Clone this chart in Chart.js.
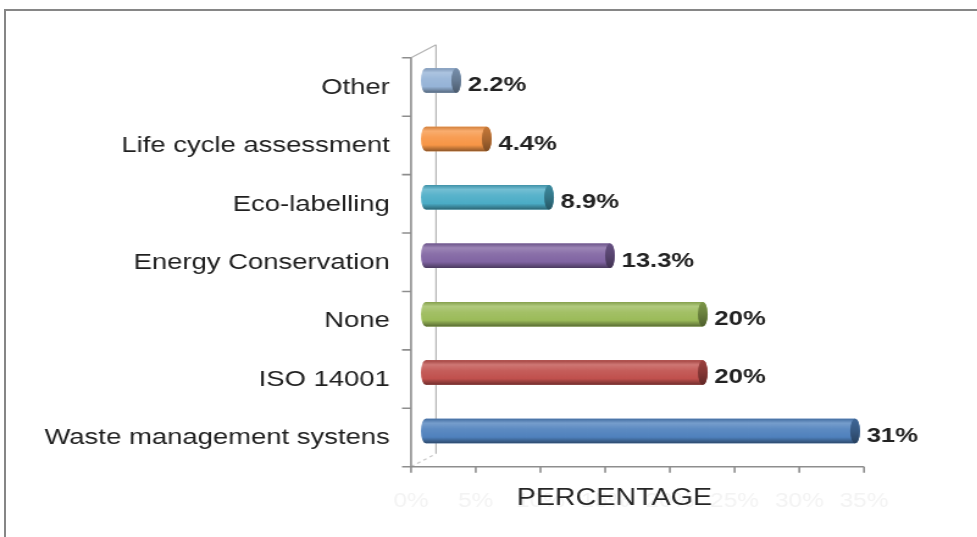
<!DOCTYPE html>
<html lang="en">
<head>
    <meta charset="UTF-8">
    <title>Environmental practices</title>
    <script src="https://cdn.jsdelivr.net/npm/chart.js"></script>
    <style>
        html, body {
            margin: 0;
            padding: 0;
            background: #fff;
            overflow: hidden;
        }
        #frame {
            position: absolute;
            left: 4px;
            top: 9px;
            width: 1000px;
            height: 600px;
            border-top: 2px solid #868686;
            border-left: 2px solid #868686;
        }
        /* the chart is laid out narrow and widened, which gives the broad lettering */
        #wrap {
            position: absolute;
            left: 0;
            top: 0;
            width: 801px;
            height: 537px;
            transform: scaleX(1.22);
            transform-origin: 0 0;
        }
    </style>
</head>
<body>
    <div id="frame"></div>
    <div id="wrap"><canvas id="practiceChart"></canvas></div>
    <script>
        const categories = ['Other', 'Life cycle assessment', 'Eco-labelling', 'Energy Conservation', 'None', 'ISO 14001', 'Waste management systens'];
        const percentages = [2.2, 4.4, 8.9, 13.3, 20, 20, 31];
        const barColors = ['#95B3D7', '#F79646', '#4BACC6', '#8064A2', '#9BBB59', '#C0504D', '#4F81BD'];
        const tickLabels = ['0%', '5%', '10%', '15%', '20%', '25%', '30%', '35%'];
        const tickValues = tickLabels.map(t => parseFloat(t));

        const FONT = '"Liberation Sans", Arial, sans-serif';
        const depthX = 20.5;   // front-to-back offset of the 3d box
        const depthY = 13;
        const capRx = 4;       // half width of the cylinder end caps

        function shade(hex, amt) {
            const n = parseInt(hex.slice(1), 16);
            let r = n >> 16, g = (n >> 8) & 255, b = n & 255;
            const t = amt < 0 ? 0 : 255, p = Math.abs(amt);
            r = Math.round((t - r) * p + r);
            g = Math.round((t - g) * p + g);
            b = Math.round((t - b) * p + b);
            return `rgb(${r},${g},${b})`;
        }

        // walls and floor of the 3d plot box, plus the axis title
        const frame3d = {
            id: 'frame3d',
            beforeDatasetsDraw(chart) {
                const { ctx, chartArea: a, scales: { x2 } } = chart;
                const n = categories.length;
                const step = (a.bottom - a.top) / n;
                const fx = x2.getPixelForValue(0);
                const bx = fx + depthX;
                const fTop = a.top + depthY / 2, fBot = a.bottom + depthY / 2;
                const bTop = a.top - depthY / 2, bBot = a.bottom - depthY / 2;
                const floorEnd = x2.getPixelForValue(tickValues[tickValues.length - 1]);
                ctx.save();
                // back wall edge
                ctx.strokeStyle = '#b4b4b4';
                ctx.lineWidth = 1.2;
                ctx.beginPath();
                ctx.moveTo(bx, bTop);
                ctx.lineTo(bx, bBot);
                ctx.moveTo(fx, fTop);
                ctx.lineTo(bx, bTop);
                ctx.stroke();
                ctx.setLineDash([3, 3]);
                ctx.strokeStyle = '#c8c8c8';
                ctx.beginPath();
                ctx.moveTo(fx, fBot);
                ctx.lineTo(bx, bBot);
                ctx.stroke();
                ctx.setLineDash([]);
                // front axes
                ctx.strokeStyle = '#8e8e8e';
                ctx.lineWidth = 1.6;
                ctx.beginPath();
                ctx.moveTo(fx, fTop);
                ctx.lineTo(fx, fBot);
                ctx.lineTo(floorEnd, fBot);
                for (let i = 0; i <= n; i++) {
                    const yy = fTop + i * step;
                    ctx.moveTo(fx - 7.4, yy);
                    ctx.lineTo(fx, yy);
                }
                x2.ticks.forEach((t, k) => {
                    const px = x2.getPixelForTick(k);
                    ctx.moveTo(px, fBot);
                    ctx.lineTo(px, fBot + 6);
                });
                ctx.stroke();
                // axis title
                ctx.fillStyle = '#262626';
                ctx.font = '23.5px ' + FONT;
                ctx.textAlign = 'center';
                ctx.textBaseline = 'middle';
                ctx.fillText('PERCENTAGE', (fx + floorEnd) / 2 - 19, 499);
                ctx.restore();
            }
        };

        // cylinder shading over each bar, then the value labels
        const cylinders = {
            id: 'cylinders',
            afterDatasetsDraw(chart) {
                const { ctx } = chart;
                const meta = chart.getDatasetMeta(0);
                ctx.save();
                meta.data.forEach((bar, i) => {
                    const c = barColors[i];
                    const { x, y, base, height } = bar.getProps(['x', 'y', 'base', 'height'], true);
                    const top = y - height / 2, bot = y + height / 2, ry = height / 2;

                    const g = ctx.createLinearGradient(0, top, 0, bot);
                    g.addColorStop(0, shade(c, -0.15));
                    g.addColorStop(0.18, shade(c, 0.22));
                    g.addColorStop(0.42, shade(c, 0.08));
                    g.addColorStop(0.75, c);
                    g.addColorStop(1, shade(c, -0.42));
                    ctx.beginPath();
                    ctx.moveTo(base, top);
                    ctx.lineTo(x, top);
                    ctx.ellipse(x, y, capRx, ry, 0, -Math.PI / 2, Math.PI / 2);
                    ctx.lineTo(base, bot);
                    ctx.ellipse(base, y, capRx, ry, 0, Math.PI / 2, Math.PI * 1.5);
                    ctx.closePath();
                    ctx.fillStyle = g;
                    ctx.fill();

                    const cg = ctx.createLinearGradient(0, top, 0, bot);
                    cg.addColorStop(0, shade(c, -0.2));
                    cg.addColorStop(0.5, shade(c, -0.32));
                    cg.addColorStop(1, shade(c, -0.5));
                    ctx.beginPath();
                    ctx.ellipse(x, y, capRx, ry, 0, 0, Math.PI * 2);
                    ctx.fillStyle = cg;
                    ctx.fill();

                    ctx.fillStyle = '#222';
                    ctx.font = 'bold 21px ' + FONT;
                    ctx.textAlign = 'left';
                    ctx.textBaseline = 'middle';
                    ctx.fillText(percentages[i] + '%', x + capRx + 5.5, y + 5);
                });
                ctx.restore();
            }
        };

        new Chart(document.getElementById('practiceChart'), {
            type: 'bar',
            data: {
                labels: categories,
                datasets: [{
                    data: percentages,
                    backgroundColor: barColors,
                    borderWidth: 0,
                    barPercentage: 0.42,
                    categoryPercentage: 1
                }]
            },
            options: {
                indexAxis: 'y',
                responsive: true,
                maintainAspectRatio: false,
                animation: false,
                layout: { padding: { top: 51.3, right: 54.7, left: 0, bottom: 0 } },
                plugins: {
                    legend: { display: false },
                    tooltip: { enabled: false }
                },
                scales: {
                    y: {
                        grid: { display: false, drawTicks: false },
                        border: { display: false },
                        ticks: {
                            color: '#1f1f1f',
                            font: { family: FONT, size: 22.5 },
                            padding: 29.5,
                            labelOffset: 7
                        },
                        afterFit(scale) { scale.width = 349; }
                    },
                    x: {
                        display: false,
                        min: 0,
                        max: 35
                    },
                    // the floor axis sits on the front face of the box, so it runs on its own scale
                    x2: {
                        type: 'linear',
                        position: 'bottom',
                        min: 1.14,
                        max: 38.59,
                        grid: { display: false, drawTicks: false },
                        border: { display: false },
                        ticks: {
                            color: '#f3f3f3',
                            font: { family: FONT, size: 20 },
                            padding: 29,
                            maxRotation: 0,
                            autoSkip: false,
                            callback: (v) => tickLabels[tickValues.indexOf(v)] || ''
                        },
                        afterBuildTicks(scale) {
                            scale.ticks = tickValues.map(v => ({ value: v }));
                        },
                        afterFit(scale) { scale.height = 76.8; }
                    }
                }
            },
            plugins: [frame3d, cylinders]
        });
    </script>
</body>
</html>
